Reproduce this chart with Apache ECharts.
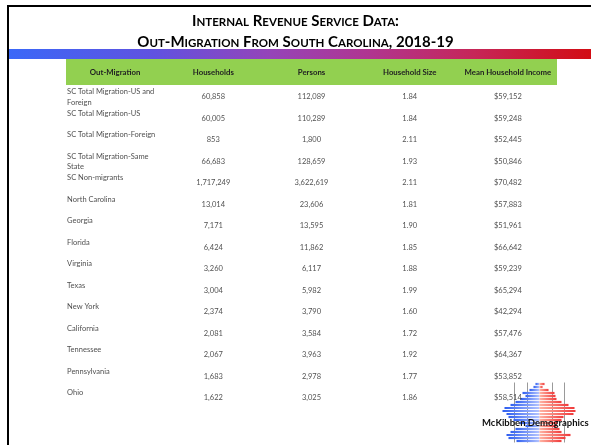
<!DOCTYPE html>
<html>
<head>
<meta charset="utf-8">
<script src="https://cdn.jsdelivr.net/npm/echarts@6/dist/echarts.min.js"></script>
<style>
html, body { margin: 0; padding: 0; background: #fff; }
#chart { width: 591px; height: 445px; }
</style>
</head>
<body>
<div id="chart"></div>
<script>
const titleLines = ['Internal Revenue Service Data:', 'Out-Migration From South Carolina, 2018-19']
const columns = ['Out-Migration', 'Households', 'Persons', 'Household Size', 'Mean Household Income']
const places = [
  'SC Total Migration-US and Foreign',
  'SC Total Migration-US',
  'SC Total Migration-Foreign',
  'SC Total Migration-Same State',
  'SC Non-migrants',
  'North Carolina',
  'Georgia',
  'Florida',
  'Virginia',
  'Texas',
  'New York',
  'California',
  'Tennessee',
  'Pennsylvania',
  'Ohio',
]
const households = [60858, 60005, 853, 66683, 1717249, 13014, 7171, 6424, 3260, 3004, 2374, 2081, 2067, 1683, 1622]
const persons = [112089, 110289, 1800, 128659, 3622619, 23606, 13595, 11862, 6117, 5982, 3790, 3584, 3963, 2978, 3025]
const householdSize = [1.84, 1.84, 2.11, 1.93, 2.11, 1.81, 1.90, 1.85, 1.88, 1.99, 1.60, 1.72, 1.92, 1.77, 1.86]
const meanIncome = [59152, 59248, 52445, 50846, 70482, 57883, 51961, 66642, 59239, 65294, 42294, 57476, 64367, 53852, 58514]

// logo: little population pyramid behind the name
const logoName = 'McKibben Demographics'
const pyramidLeft = [4, 6, 10, 17, 14, 19, 24, 29, 35, 37, 33, 31, 26, 20, 14, 24, 29, 33, 31, 23]
const pyramidRight = [5, 3, 9, 15, 16, 17, 22, 29, 35, 36, 34, 24, 22, 18, 17, 20, 22, 31, 26, 22]

const FONT = 'Lato, "Open Sans", sans-serif'
const fmt = (n) => n.toLocaleString('en-US')

// small caps as rich text: lower case letters drawn as smaller capitals
const smallCaps = (s) =>
  s.replace(/([a-z]+)|([^a-z]+)/g, (m, lo, up) => (lo ? `{s|${lo.toUpperCase()}}` : `{b|${up}}`))

const titleRich = {
  b: { fontFamily: FONT, fontWeight: 'bold', fontSize: 15, color: '#111', verticalAlign: 'bottom', lineHeight: 18 },
  s: { fontFamily: FONT, fontWeight: 'bold', fontSize: 11.5, color: '#111', verticalAlign: 'bottom', lineHeight: 18 },
}

const nameData = places.map((p, i) => [0, i, p])
const cellData = []
places.forEach((p, i) => {
  cellData.push([1, i, fmt(households[i])])
  cellData.push([2, i, fmt(persons[i])])
  cellData.push([3, i, householdSize[i].toFixed(2)])
  cellData.push([4, i, '$' + fmt(meanIncome[i])])
})

const chart = echarts.init(document.getElementById('chart'))

chart.setOption({
  backgroundColor: '#fff',
  animation: false,
  grid: [
    { left: 66, top: 86.25, width: 491, height: 322.5 },
    { left: 502, top: 382.5, width: 75, height: 60 },
  ],
  xAxis: [
    {
      gridIndex: 0,
      type: 'category',
      position: 'top',
      data: columns,
      axisLine: { show: false },
      axisTick: { show: false },
      axisLabel: {
        interval: 0,
        fontFamily: FONT,
        fontWeight: 'bold',
        fontSize: 7.8,
        color: '#222',
        margin: 14,
        verticalAlign: 'middle',
      },
    },
    {
      gridIndex: 1,
      type: 'value',
      min: -37.5,
      max: 37.5,
      interval: 12.5,
      axisLine: { show: false },
      axisTick: { show: false },
      axisLabel: { show: false },
      splitLine: {
        lineStyle: {
          width: 1,
          color: ['rgba(0,0,0,0)', '#9a9a9a', '#9a9a9a', 'rgba(0,0,0,0)', '#9a9a9a', '#9a9a9a', 'rgba(0,0,0,0)'],
        },
      },
    },
  ],
  yAxis: [
    {
      gridIndex: 0,
      type: 'category',
      inverse: true,
      data: places,
      show: false,
    },
    {
      gridIndex: 1,
      type: 'category',
      inverse: true,
      data: pyramidLeft.map((v, i) => String(i)),
      show: false,
    },
  ],
  graphic: [
    {
      type: 'rect',
      z: -10,
      shape: { x: 66, y: 59, width: 491, height: 26 },
      style: { fill: '#92d050' },
    },
    {
      type: 'rect',
      z: 10,
      shape: { x: 8, y: 49, width: 583, height: 10 },
      style: {
        fill: new echarts.graphic.LinearGradient(0, 0, 1, 0, [
          { offset: 0, color: '#3a68f8' },
          { offset: 0.25, color: '#6052e0' },
          { offset: 0.45, color: '#9544b8' },
          { offset: 0.62, color: '#b03590' },
          { offset: 0.8, color: '#c62658' },
          { offset: 1, color: '#d20c14' },
        ]),
      },
    },
    {
      type: 'rect',
      z: 20,
      shape: { x: 8, y: 6, width: 640, height: 500 },
      style: { fill: 'none', stroke: '#000', lineWidth: 2 },
    },
    {
      type: 'text',
      x: 295.5,
      y: 19.5,
      style: { text: smallCaps(titleLines[0]), rich: titleRich, align: 'center', verticalAlign: 'middle' },
    },
    {
      type: 'text',
      x: 295.5,
      y: 40.5,
      style: { text: smallCaps(titleLines[1]), rich: titleRich, align: 'center', verticalAlign: 'middle' },
    },
    {
      type: 'text',
      z: 30,
      x: 482,
      y: 423,
      style: {
        text: logoName,
        font: 'bold 9.5px ' + FONT,
        fill: '#111',
        align: 'left',
        verticalAlign: 'middle',
      },
    },
  ],
  series: [
    {
      type: 'scatter',
      xAxisIndex: 0,
      yAxisIndex: 0,
      silent: true,
      symbolSize: 1,
      itemStyle: { color: 'rgba(0,0,0,0)' },
      data: nameData,
      label: {
        show: true,
        position: 'inside',
        formatter: (p) => p.data[2],
        fontFamily: FONT,
        fontSize: 7.5,
        color: '#222',
        align: 'left',
        verticalAlign: 'top',
        offset: [-48, -10.5],
        width: 94,
        overflow: 'break',
        lineHeight: 10.5,
      },
    },
    {
      type: 'scatter',
      xAxisIndex: 0,
      yAxisIndex: 0,
      silent: true,
      symbolSize: 1,
      itemStyle: { color: 'rgba(0,0,0,0)' },
      data: cellData,
      label: {
        show: true,
        position: 'inside',
        formatter: (p) => p.data[2],
        fontFamily: FONT,
        fontSize: 7.5,
        color: '#222',
      },
    },
    {
      type: 'bar',
      xAxisIndex: 1,
      yAxisIndex: 1,
      silent: true,
      barWidth: 2.2,
      barGap: '-100%',
      data: pyramidLeft.map((v) => -v),
      itemStyle: {
        color: new echarts.graphic.LinearGradient(0, 0, 1, 0, [
          { offset: 0, color: '#2f5ff0' },
          { offset: 1, color: '#b4c4ff' },
        ]),
      },
    },
    {
      type: 'bar',
      xAxisIndex: 1,
      yAxisIndex: 1,
      silent: true,
      barWidth: 2.2,
      barGap: '-100%',
      data: pyramidRight,
      itemStyle: {
        color: new echarts.graphic.LinearGradient(0, 0, 1, 0, [
          { offset: 0, color: '#ffb4a4' },
          { offset: 1, color: '#f03a3a' },
        ]),
      },
    },
  ],
})
</script>
</body>
</html>
